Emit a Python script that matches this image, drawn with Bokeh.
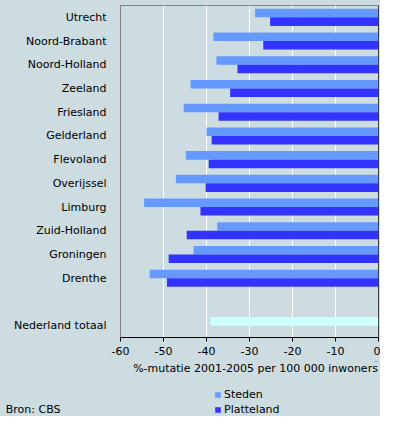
from bokeh.plotting import figure
from bokeh.models import (Range1d, FixedTicker, Label, Legend, LegendItem, Span,
                          ColumnDataSource, LinearAxis)
from bokeh.layouts import column
from bokeh.embed import file_html
from bokeh.resources import INLINE

regions = ["Utrecht", "Noord-Brabant", "Noord-Holland", "Zeeland", "Friesland",
           "Gelderland", "Flevoland", "Overijssel", "Limburg", "Zuid-Holland",
           "Groningen", "Drenthe"]
steden = [-28.7, -38.4, -37.7, -43.7, -45.3, -40.0, -44.8, -47.1, -54.5, -37.5, -43.0, -53.2]
platteland = [-25.2, -26.8, -32.8, -34.5, -37.2, -38.8, -39.5, -40.2, -41.4, -44.6, -48.8, -49.2]
total_label = "Nederland totaal"
total_value = -39.1
x_ticks = [-60, -50, -40, -30, -20, -10, 0]

FONT = "DejaVu Sans"
BG = "#CCDCE1"
C_STEDEN = "#6699FF"
C_PLATT = "#3333FF"
C_TOTAL = "#CCFFFF"

n = len(regions)
total_pos = n + 1
ys = list(range(n))
off = 0.18
h = 0.36

# ---------------- main chart ----------------
p = figure(width=380, height=361, output_backend="svg", toolbar_location=None,
           x_range=Range1d(-60, 0), y_range=Range1d(total_pos + 0.5, -0.5),
           min_border_left=120, min_border_right=2, min_border_top=5,
           min_border_bottom=24)
p.background_fill_color = BG
p.border_fill_color = BG
p.outline_line_color = "#808080"

src_s = ColumnDataSource(dict(y=[y - off for y in ys], right=steden))
src_p = ColumnDataSource(dict(y=[y + off for y in ys], right=platteland))
src_t = ColumnDataSource(dict(y=[total_pos - off], right=[total_value]))

p.hbar(y="y", left=0, right="right", height=h, source=src_s,
       fill_color=C_STEDEN, line_color=None)
p.hbar(y="y", left=0, right="right", height=h, source=src_p,
       fill_color=C_PLATT, line_color=None)
p.hbar(y="y", left=0, right="right", height=h, source=src_t,
       fill_color=C_TOTAL, line_color=None)

p.add_layout(Span(location=0, dimension="height", line_color="black", line_width=1))

p.xgrid.ticker = FixedTicker(ticks=x_ticks)
p.xgrid.grid_line_color = "white"
p.ygrid.grid_line_color = None

p.xaxis.ticker = FixedTicker(ticks=x_ticks)
p.xaxis.major_label_overrides = {t: str(t) for t in x_ticks}
p.xaxis.axis_line_color = "black"
p.xaxis.major_tick_line_color = "black"
p.xaxis.major_tick_out = 4
p.xaxis.major_tick_in = 0
p.xaxis.minor_tick_line_color = None
p.xaxis.major_label_text_font = FONT
p.xaxis.major_label_text_font_size = "11px"
p.xaxis.major_label_text_color = "black"
p.xaxis.major_label_standoff = 5

p.yaxis.ticker = FixedTicker(ticks=ys + [total_pos])
overrides = {i: regions[i] for i in ys}
overrides[total_pos] = total_label
p.yaxis.major_label_overrides = overrides
p.yaxis.axis_line_color = "#808080"
p.yaxis.major_tick_line_color = None
p.yaxis.minor_tick_line_color = None
p.yaxis.major_label_text_font = FONT
p.yaxis.major_label_text_font_size = "11px"
p.yaxis.major_label_text_color = "black"
p.yaxis.major_label_standoff = 8

# ---------------- footer: axis title, legend, source ----------------
H2 = 55
p2 = figure(width=380, height=H2, output_backend="svg", toolbar_location=None,
            x_range=Range1d(-60, 0), y_range=Range1d(H2, 0),
            x_axis_type=None, y_axis_type=None,
            min_border_left=120, min_border_right=2, min_border_top=0,
            min_border_bottom=0)
p2.background_fill_color = BG
p2.border_fill_color = BG
p2.outline_line_color = BG
p2.outline_line_width = 3
p2.grid.grid_line_color = None

dummy = ColumnDataSource(dict(y=[-1000], r=[-1]))
r_s = p2.hbar(y="y", left=0, right="r", height=1, source=dummy,
              fill_color=C_STEDEN, line_color=None)
r_p = p2.hbar(y="y", left=0, right="r", height=1, source=dummy,
              fill_color=C_PLATT, line_color=None)

p2.add_layout(Label(x=-28.6, y=7, text="%-mutatie 2001-2005 per 100 000 inwoners",
                    text_font=FONT, text_font_size="11px", text_align="center",
                    text_baseline="middle", text_color="black"))

src_axis = LinearAxis(ticker=FixedTicker(ticks=[49.5]),
                      major_label_overrides={49.5: "Bron: CBS"},
                      axis_line_color=None, major_tick_line_color=None,
                      minor_tick_line_color=None,
                      major_label_text_font=FONT, major_label_text_font_size="11px",
                      major_label_text_color="black", major_label_standoff=54)
p2.add_layout(src_axis, "left")

legend = Legend(items=[LegendItem(label="Steden", renderers=[r_s]),
                       LegendItem(label="Platteland", renderers=[r_p])],
                location=(94, 0), orientation="vertical",
                background_fill_alpha=0, border_line_color=None,
                label_text_font=FONT, label_text_font_size="11px",
                label_text_color="black",
                glyph_width=7, glyph_height=7, label_height=13, spacing=2,
                padding=0, margin=0, label_standoff=3)
p2.add_layout(legend, "center")

layout = column(p, p2, spacing=0, styles={"background-color": BG})

open("out.html", "w").write(file_html(layout, INLINE))
